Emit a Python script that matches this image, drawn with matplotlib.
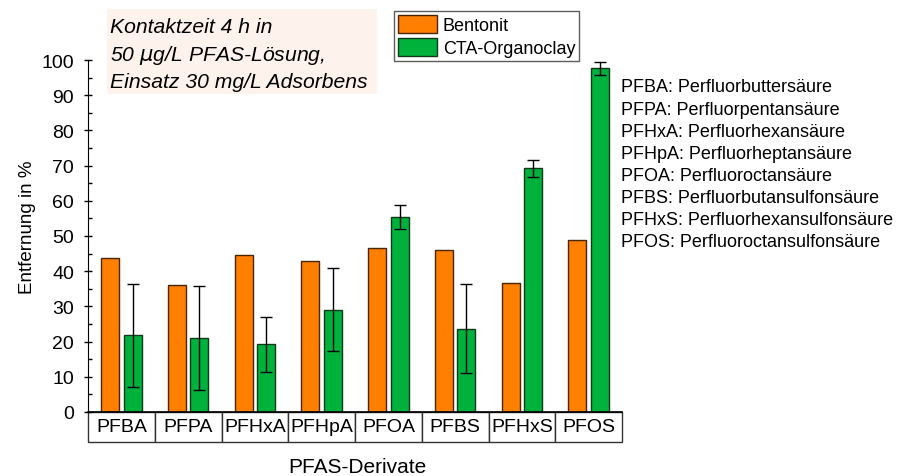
import matplotlib.pyplot as plt
import numpy as np
from matplotlib.patches import Rectangle

plt.rcParams["font.family"] = ["Liberation Sans", "DejaVu Sans"]

categories = ["PFBA", "PFPA", "PFHxA", "PFHpA", "PFOA", "PFBS", "PFHxS", "PFOS"]
bentonit = [43.8, 36.1, 44.7, 42.9, 46.6, 46.1, 36.7, 49.0]
organoclay = [21.8, 21.1, 19.2, 29.0, 55.4, 23.7, 69.2, 97.6]
organoclay_err = [14.7, 14.8, 7.9, 11.8, 3.5, 12.7, 2.3, 1.8]
legend_labels = ["Bentonit", "CTA-Organoclay"]
abbreviations = [
    "PFBA: Perfluorbuttersäure",
    "PFPA: Perfluorpentansäure",
    "PFHxA: Perfluorhexansäure",
    "PFHpA: Perfluorheptansäure",
    "PFOA: Perfluoroctansäure",
    "PFBS: Perfluorbutansulfonsäure",
    "PFHxS: Perfluorhexansulfonsäure",
    "PFOS: Perfluoroctansulfonsäure",
]
note = "Kontaktzeit 4 h in\n50 $\\mu$g/L PFAS-Lösung,\nEinsatz 30 mg/L Adsorbens"

W, H = 911, 477
fig = plt.figure(figsize=(W / 100, H / 100), dpi=100)
x0, x1, y0, y1 = 88, 622, 413, 61
ax = fig.add_axes([x0 / W, 1 - y0 / H, (x1 - x0) / W, (y0 - y1) / H])

x = np.arange(len(categories))
w = 0.27
ax.bar(x - 0.17, bentonit, w, color="#FF8000", edgecolor="#4a2400", linewidth=1.0,
       label=legend_labels[0])
ax.bar(x + 0.17, organoclay, w, color="#00B23C", edgecolor="#0f3a18", linewidth=1.0,
       label=legend_labels[1])
ax.errorbar(x + 0.17, organoclay, yerr=organoclay_err, fmt="none", ecolor="black",
            elinewidth=1.0, capsize=4, capthick=1.0)

ax.set_xlim(-0.5, len(categories) - 0.5)
ax.set_ylim(0, 100)
ax.set_yticks(np.arange(0, 101, 10))
ax.set_yticks(np.arange(5, 100, 10), minor=True)
ax.tick_params(axis="y", labelsize=14, direction="inout", length=6, width=1, pad=7)
ax.tick_params(axis="y", which="minor", direction="in", length=3, width=1)
ax.set_xticks([])
for s in ["top", "right", "bottom"]:
    ax.spines[s].set_visible(False)
ax.set_ylabel("Entfernung in %", fontsize=13.5)
ax.yaxis.set_label_coords((36 - x0) / (x1 - x0), (y0 - 227) / (y0 - y1))

# category label table below the axis
cell_h = 30 / (y0 - y1)
for i, c in enumerate(categories):
    ax.add_patch(Rectangle((i - 0.5, -cell_h), 1, cell_h, transform=ax.get_xaxis_transform(),
                           facecolor="white", edgecolor="#333333", linewidth=1.0, clip_on=False))
    ax.text(i, -cell_h / 2, c, transform=ax.get_xaxis_transform(), ha="center", va="center",
            fontsize=14)
ax.axhline(0, color="black", linewidth=1.2, clip_on=False)
ax.text((357 - x0) / (x1 - x0), -(468 - y0) / (y0 - y1), "PFAS-Derivate",
        transform=ax.transAxes, ha="center", va="center", fontsize=15)

# note box
fig.patches.append(Rectangle((107 / W, 1 - 95 / H), 270 / W, 85 / H, transform=fig.transFigure,
                             facecolor="#FDF3EC", edgecolor="none", zorder=0))
fig.text(110 / W, 1 - 55 / H, note, ha="left", va="center", fontsize=15.2, style="italic",
         linespacing=1.4)

leg = ax.legend(loc="upper left", bbox_to_anchor=(394 / W, 1 - 12 / H),
                bbox_transform=fig.transFigure, fontsize=13, frameon=True, fancybox=False,
                edgecolor="#333333", borderpad=0.2, handlelength=2.2, handleheight=1.2,
                handletextpad=0.3, labelspacing=0.2, borderaxespad=0)
leg.get_frame().set_linewidth(1.0)

for k, t in enumerate(abbreviations):
    fig.text(621 / W, 1 - (88 + k * 22.1) / H, t, ha="left", va="center", fontsize=13)

fig.savefig("out.png", dpi=100)
